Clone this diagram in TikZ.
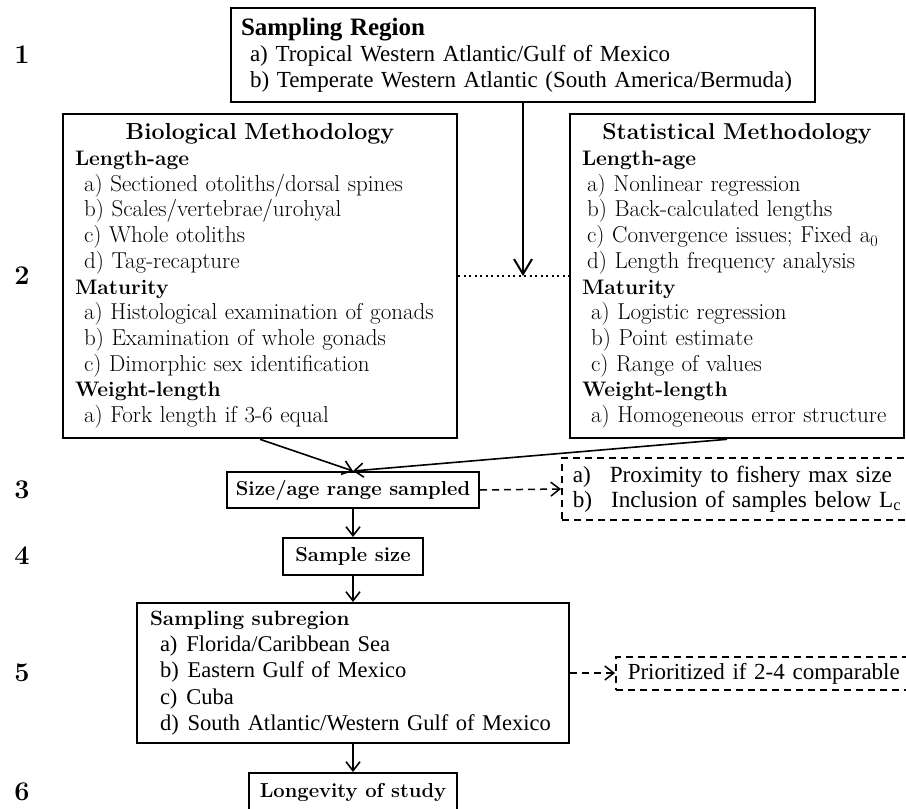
\documentclass[tikz,border=0pt]{standalone}
\usepackage{fontspec}
\newfontfamily\tnr{Liberation Serif}
\usetikzlibrary{arrows.meta}

\begin{document}
\begin{tikzpicture}[x=1pt,y=-1pt,
    bigbox/.style={draw,line width=2.6pt,inner xsep=12pt,inner ysep=0pt,align=left},
    smallbox/.style={draw,line width=2pt,inner sep=0pt,font=\bfseries\fontsize{20.2}{22}\selectfont},
    notebox/.style={draw,line width=1.5pt,dash pattern=on 7pt off 5pt,inner xsep=11pt,inner ysep=0pt,
      align=left,anchor=west,font=\tnr\fontsize{23.2}{25}\selectfont},
    rowlabel/.style={font=\bfseries\fontsize{27}{27}\selectfont},
    arr/.style={-{Straight Barb[length=9pt,width=14pt]},line width=1.6pt},
    bigarr/.style={-{Straight Barb[length=15pt,width=18pt]},line width=2pt},
    dasharr/.style={dash pattern=on 7pt off 5pt,line width=1.5pt}]
  \useasboundingbox (0,0) rectangle (906,809);
  \draw
    (22,55) node[rowlabel] (r1){1}
    (22,276) node[rowlabel] (r2){2}
    (22,490) node[rowlabel] (r3){3}
    (22,556) node[rowlabel] (r4){4}
    (22,673) node[rowlabel] (r5){5}
    (22,792) node[rowlabel] (r6){6};
  \node[bigbox,inner xsep=10pt,text width=564pt,minimum height=94pt,font=\tnr\fontsize{23}{26}\selectfont] (region) at (523,55)
    {{\bfseries\fontsize{25}{26}\selectfont Sampling Region}\\
     \hspace*{9pt}a) Tropical Western Atlantic/Gulf of Mexico\\
     \hspace*{9pt}b) Temperate Western Atlantic (South America/Bermuda)};
  \node[bigbox,text width=370pt,minimum height=324pt,font=\fontsize{23}{25.7}\selectfont] (bio) at (260,276)
    {\hbox to\hsize{\hss\bfseries\fontsize{23.2}{27}\selectfont Biological Methodology\hss}\\
     {\bfseries\fontsize{21}{25.7}\selectfont Length-age}\\
     \hspace*{9pt}a) Sectioned otoliths/dorsal spines\\
     \hspace*{9pt}b) Scales/vertebrae/urohyal\\
     \hspace*{9pt}c) Whole otoliths\\
     \hspace*{9pt}d) Tag-recapture\\
     {\bfseries\fontsize{21}{25.7}\selectfont Maturity}\\
     \hspace*{9pt}a) Histological examination of gonads\\
     \hspace*{9pt}b) Examination of whole gonads\\
     \hspace*{9pt}c) Dimorphic sex identification\\
     {\bfseries\fontsize{21}{25.7}\selectfont Weight-length}\\
     \hspace*{9pt}a) Fork length if 3-6 equal};
  \node[bigbox,text width=310pt,inner xsep=12pt,minimum height=324pt,font=\fontsize{23}{25.7}\selectfont] (stat) at (737,276)
    {\hbox to\hsize{\hss\bfseries\fontsize{23}{27}\selectfont Statistical Methodology\hss}\\
     {\bfseries\fontsize{21}{25.7}\selectfont Length-age}\\
     \hspace*{5pt}a) Nonlinear regression\\
     \hspace*{5pt}b) Back-calculated lengths\\
     \hspace*{5pt}c) Convergence issues; Fixed a\textsubscript{0}\\
     \hspace*{5pt}d) Length frequency analysis\\
     {\bfseries\fontsize{21}{25.7}\selectfont Maturity}\\
     \hspace*{9pt}a) Logistic regression\\
     \hspace*{9pt}b) Point estimate\\
     \hspace*{9pt}c) Range of values\\
     {\bfseries\fontsize{21}{25.7}\selectfont Weight-length}\\
     \hspace*{9pt}a) Homogeneous error structure};
  \node[smallbox,minimum width=252pt,minimum height=36pt] (range) at (353,490) {Size/age range sampled};
  \node[smallbox,minimum width=140pt,minimum height=37pt] (ssize) at (353,556.5) {Sample size};
  \node[draw,line width=2pt,inner xsep=13pt,inner ysep=0pt,text width=406pt,minimum height=140pt,align=left,
    font=\tnr\fontsize{22.5}{26.3}\selectfont] (subregion) at (353,673)
    {{\rmfamily\bfseries\fontsize{20.7}{26.3}\selectfont Sampling subregion}\\
     \hspace*{10pt}a)\hspace{9pt}Florida/Caribbean Sea\\
     \hspace*{10pt}b)\hspace{9pt}Eastern Gulf of Mexico\\
     \hspace*{10pt}c)\hspace{9pt}Cuba\\
     \hspace*{10pt}d)\hspace{9pt}South Atlantic/Western Gulf of Mexico};
  \node[smallbox,minimum width=208pt,minimum height=38pt] (longevity) at (353,792) {Longevity of study};
  \node[notebox,text width=400pt,minimum height=62pt] (note3) at (561,489)
    {a)\hspace{19pt}Proximity to fishery max size\\
     b)\hspace{19pt}Inclusion of samples below L\textsubscript{c}};
  \node[notebox,inner xsep=12pt,text width=340pt,minimum height=33pt,font=\tnr\fontsize{23}{25}\selectfont] (note5) at (615,673.5)
    {Prioritized if 2-4 comparable};
  \draw[line width=2pt,dash pattern=on 2pt off 3.5pt] (bio.east) -- (stat.west);
  \begin{scope}[arr]
    \draw[bigarr] (region.south) -- (region.south |- bio.east);
    \draw (bio.south) -- (range.north);
    \draw ([xshift=-10pt]stat.south) -- (range.north);
    \draw (range.south) -- (ssize.north);
    \draw (ssize.south) -- (subregion.north);
    \draw (subregion.south) -- (longevity.north);
    \draw[dasharr] (range.east) -- (note3.west);
    \draw[dasharr] (subregion.east) -- (subregion.east -| note5.west);
  \end{scope}
\end{tikzpicture}
\end{document}
